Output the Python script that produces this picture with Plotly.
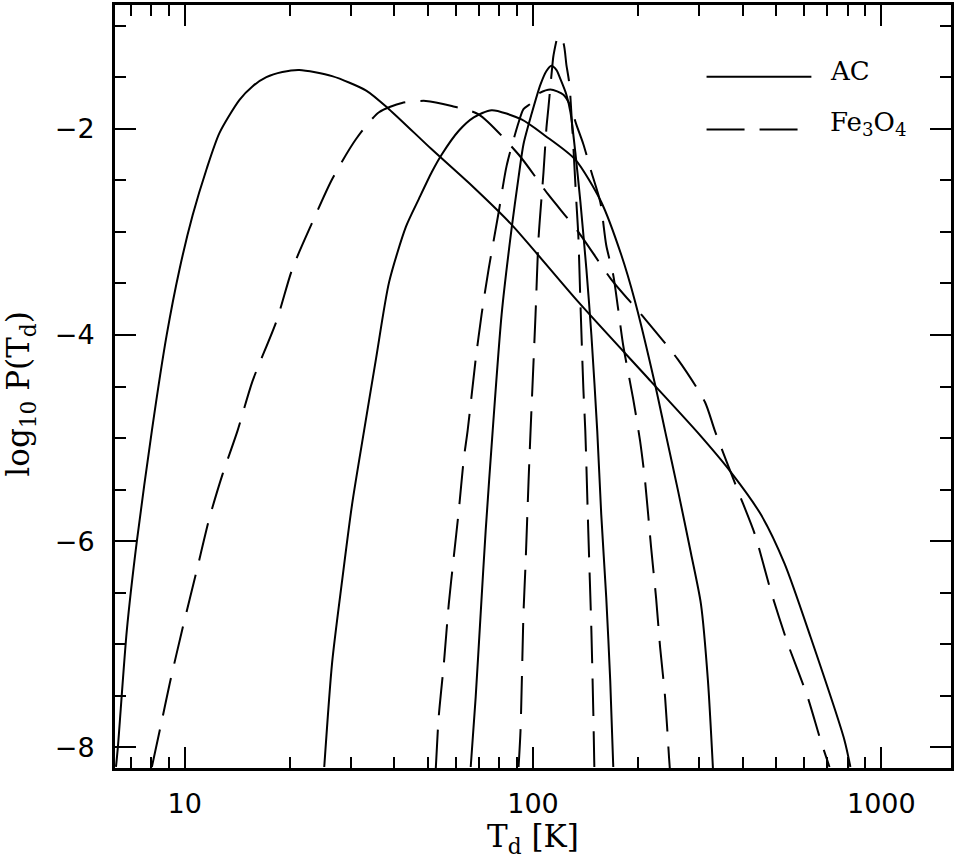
import plotly.graph_objects as go

# temperature grids [K] and log10 P(T)
# AC (solid lines)
t_ac1 = [6.35, 6.43, 6.82, 7.29, 8.05, 8.88, 9.67, 10.54, 11.56, 12.59,
         14.37, 15.65, 17.16, 19.07, 21.33, 26.5, 33.2, 38.6, 51.2, 67.6,
         86.8, 134.9, 218, 297.6, 369.8, 450.7, 527.8, 626.4, 783.7, 815]
p_ac1 = [-8.19, -8.0, -6.87, -6.0, -4.93, -4.0, -3.36, -2.84, -2.39, -2.04,
         -1.72, -1.59, -1.50, -1.45, -1.43, -1.49, -1.63, -1.81, -2.20, -2.57,
         -2.93, -3.68, -4.45, -4.95, -5.33, -5.74, -6.22, -6.93, -7.93, -8.19]

t_ac2 = [25.16, 26.5, 28.32, 30.25, 32.73, 35.43, 38.61, 43.18, 47.04, 51.23,
         54.71, 61.23, 67.6, 76.1, 92.7, 108.6, 132.3, 157.0, 179.1,
         196.5, 224.1, 239.4, 260.8, 284.2, 303.5, 317.8, 328.5]
p_ac2 = [-8.19, -7.18, -6.38, -5.64, -4.93, -4.23, -3.49, -2.95, -2.68, -2.42,
         -2.25, -2.02, -1.89, -1.82, -1.91, -2.07, -2.30, -2.71, -3.22,
         -3.68, -4.48, -4.93, -5.51, -6.12, -6.61, -7.35, -8.2]

t_ac3 = [66.25, 68.47, 70.76, 73.13, 76.6, 81.27, 86.8, 90.9, 93.9, 99.0,
         105.1, 109.3, 112.9, 116.7, 119.9, 124.7, 128.1, 132.3, 136.8, 142.3,
         147.1, 152.9, 157.0, 162.3, 166.6, 170.0]
p_ac3 = [-8.19, -7.51, -6.70, -5.90, -4.93, -3.80, -2.97, -2.47, -2.15, -1.86,
         -1.57, -1.44, -1.39, -1.43, -1.52, -1.67, -1.84, -2.23, -2.71, -3.36,
         -4.0, -4.93, -5.74, -6.55, -7.35, -8.19]

# Fe3O4 (dashed lines)
t_fe1 = [8.05, 8.60, 9.06, 9.87, 10.82, 11.79, 12.85, 14.18, 15.65, 18.33,
         20.37, 23.24, 26.5, 31.05, 36.14, 42.05, 49.25, 58.46, 69.8, 90.9,
         110.7, 134.9, 167.7, 204.4, 260.8, 311.6, 332.8, 387.3, 433.1, 481.3,
         538.3, 614.1, 669.2, 710]
p_fe1 = [-8.19, -7.74, -7.38, -6.84, -6.29, -5.77, -5.35, -4.93, -4.45, -3.87,
         -3.36, -2.91, -2.49, -2.10, -1.84, -1.75, -1.73, -1.78, -1.86, -2.25,
         -2.64, -3.00, -3.46, -3.80, -4.24, -4.65, -4.93, -5.51, -5.93, -6.48,
         -6.99, -7.51, -7.93, -8.19]

t_fe2 = [52.6, 53.6, 55.5, 57.3, 59.2, 61.2, 63.3, 64.9, 68.5, 71.2,
         74.6, 79.7, 84.0, 90.9, 93.9, 99.0, 102.3, 112.2, 122.3, 128.1,
         133.2, 139.5, 147.1, 156.0, 162.3, 170.0, 175.6, 181.5, 193.9, 203.0,
         209.8, 218.3, 225.6, 231.7, 239.4, 245.8, 247.0]
p_fe2 = [-8.2, -7.71, -7.18, -6.61, -6.16, -5.71, -5.20, -4.93, -4.23, -3.80,
         -3.36, -2.81, -2.36, -1.94, -1.81, -1.75, -1.67, -1.62, -1.67, -1.78,
         -1.96, -2.15, -2.42, -2.71, -3.13, -3.42, -3.75, -4.10, -4.62, -5.03,
         -5.42, -6.06, -6.55, -7.03, -7.51, -8.10, -8.2]

t_fe3 = [90.9, 92.1, 93.9, 95.2, 97.1, 98.4, 101.7, 103.7, 107.2, 109.3,
         110.7, 113.7, 114.5, 118.3, 122.3, 124.7, 127.2, 133.2, 134.9, 136.8,
         139.5, 141.3, 144.1, 147.1, 149.0, 150.0]
p_fe3 = [-8.19, -7.83, -6.70, -6.22, -5.42, -4.93, -3.80, -3.07, -2.42, -1.99,
         -1.80, -1.38, -1.29, -1.10, -1.17, -1.38, -1.57, -2.71, -3.03, -3.68,
         -4.52, -4.93, -5.90, -6.87, -7.67, -8.19]

x_major = [10, 100, 1000]
x_minor = [7, 8, 9, 20, 30, 40, 50, 60, 70, 80, 90,
           200, 300, 400, 500, 600, 700, 800, 900]
y_major = [-8, -6, -4, -2]
y_minor = [-8, -7.5, -7, -6.5, -6, -5.5, -5, -4.5, -4, -3.5, -3, -2.5, -2, -1.5, -1]

DASH = "38px,15px"

fig = go.Figure()

for t, p in [(t_ac1, p_ac1), (t_ac2, p_ac2), (t_ac3, p_ac3)]:
    fig.add_trace(go.Scatter(x=t, y=p, mode="lines", showlegend=False, hoverinfo="skip",
                             line=dict(color="black", width=2, shape="spline", smoothing=0.7)))

for t, p in [(t_fe1, p_fe1), (t_fe2, p_fe2), (t_fe3, p_fe3)]:
    fig.add_trace(go.Scatter(x=t, y=p, mode="lines", showlegend=False, hoverinfo="skip",
                             line=dict(color="black", width=2, dash=DASH,
                                       shape="spline", smoothing=0.7)))

axis_common = dict(
    ticks="inside", ticklen=21, tickwidth=2, tickcolor="black",
    showline=True, linewidth=3, linecolor="black", mirror="ticks",
    showgrid=False, zeroline=False,
    tickfont=dict(family="DejaVu Sans", size=27, color="black"),
)

fig.update_layout(
    width=956, height=860,
    margin=dict(l=115, r=3, t=2, b=92),
    plot_bgcolor="white", paper_bgcolor="white",
    xaxis=dict(type="log", range=[0.8, 3.2],
               tickvals=x_major, ticktext=[str(v) for v in x_major],
               ticklabelstandoff=10,
               minor=dict(tickvals=x_minor, ticks="inside", ticklen=11,
                          tickwidth=2, tickcolor="black", showgrid=False),
               **axis_common),
    yaxis=dict(range=[-8.2, -0.8],
               tickvals=y_major, ticktext=["\u2212" + str(-v) for v in y_major],
               ticklabelstandoff=12,
               minor=dict(tickvals=y_minor, ticks="inside", ticklen=11,
                          tickwidth=2, tickcolor="black", showgrid=False),
               **axis_common),
)

serif_big = dict(family="DejaVu Serif", size=31, color="black")
serif = dict(family="DejaVu Serif", size=26, color="black")

# axis titles
fig.add_annotation(xref="paper", yref="paper", x=0.5, y=-0.092,
                   text="T<sub>d</sub> [K]", showarrow=False, font=serif_big,
                   xanchor="center", yanchor="middle")
fig.add_annotation(xref="paper", yref="paper", x=-0.113, y=0.49,
                   text="log<sub>10</sub> P(T<sub>d</sub>)", showarrow=False,
                   font=serif_big, textangle=-90, xanchor="center", yanchor="middle")

# legend drawn by hand (long line samples)
fig.add_shape(type="line", xref="paper", yref="paper",
              x0=0.7076, x1=0.833, y0=0.906, y1=0.906,
              line=dict(color="black", width=2))
fig.add_shape(type="line", xref="paper", yref="paper",
              x0=0.7076, x1=0.833, y0=0.8368, y1=0.8368,
              line=dict(color="black", width=2, dash=DASH))
fig.add_annotation(xref="paper", yref="paper", x=0.853, y=0.914,
                   text="AC", showarrow=False, font=serif,
                   xanchor="left", yanchor="middle")
fig.add_annotation(xref="paper", yref="paper", x=0.853, y=0.845,
                   text="Fe<sub>3</sub>O<sub>4</sub>", showarrow=False, font=serif,
                   xanchor="left", yanchor="middle")

fig.write_html("out.html", config={"displayModeBar": False},
               post_script="document.body.style.margin='0';")
